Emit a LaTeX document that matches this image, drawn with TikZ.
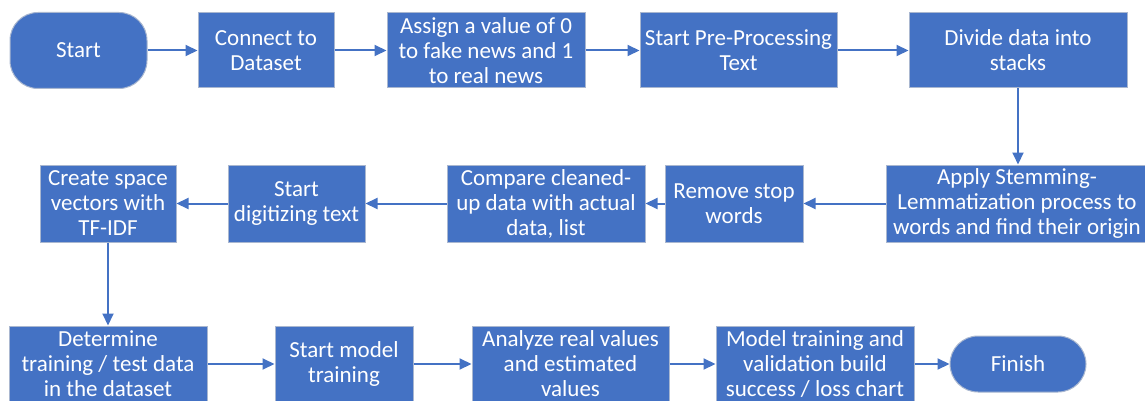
\documentclass[tikz,border=0pt]{standalone}
\usepackage{fontspec}
\setmainfont{Carlito}
\usetikzlibrary{arrows.meta}
\definecolor{boxblue}{HTML}{4472C4}
\definecolor{boxedge}{HTML}{A9B7D0}
\tikzset{
  stepbox/.style={rectangle, fill=boxblue, draw=boxedge, line width=1pt,
    text=white, align=center, inner sep=0pt,
    font=\fontsize{23}{25}\selectfont},
  termbox/.style={stepbox, rounded corners=28pt},
  flow/.style={draw=boxblue, line width=2pt, -{Triangle[length=12pt,width=11pt]}}
}
\begin{document}
\begin{tikzpicture}[x=1pt,y=-1pt]
\useasboundingbox (0,0) rectangle (1145,401);
% row 1
\node[termbox, minimum width=137pt, minimum height=76pt] (start) at (78.5,50.5) {Start};
\node[stepbox, minimum width=136pt, minimum height=75pt] (connect) at (266,50.5) {Connect to\\Dataset};
\node[stepbox, minimum width=198pt, minimum height=75pt] (assign) at (486,50.5) {Assign a value of 0\\to fake news and 1\\to real news};
\node[stepbox, minimum width=197pt, minimum height=75pt] (prep) at (738.5,50.5) {Start Pre-Processing\\Text};
\node[stepbox, minimum width=218pt, minimum height=75pt] (divide) at (1018,50.5) {Divide data into\\stacks};
% row 2
\node[stepbox, minimum width=262pt, minimum height=77pt] (apply) at (1017,203.5) {Apply Stemming-\\Lemmatization process to\\words and find their origin};
\node[stepbox, minimum width=138pt, minimum height=77pt] (remove) at (734,203.5) {Remove stop\\words};
\node[stepbox, minimum width=198pt, minimum height=77pt] (compare) at (546,203.5) {Compare cleaned-\\up data with actual\\data, list};
\node[stepbox, minimum width=137pt, minimum height=77pt] (digit) at (296.5,203.5) {Start\\digitizing text};
\node[stepbox, minimum width=136pt, minimum height=77pt] (create) at (108,203.5) {Create space\\vectors with\\TF-IDF};
% row 3
\node[stepbox, minimum width=198pt, minimum height=76pt] (determine) at (108,364) {Determine\\training / test data\\in the dataset};
\node[stepbox, minimum width=138pt, minimum height=76pt] (train) at (344,364) {Start model\\training};
\node[stepbox, minimum width=197pt, minimum height=76pt] (analyze) at (570.5,364) {Analyze real values\\and estimated\\values};
\node[stepbox, minimum width=198pt, minimum height=76pt] (model) at (815,364) {Model training and\\validation build\\success / loss chart};
\node[termbox, minimum width=136pt, minimum height=56pt] (finish) at (1018,364) {Finish};
% connectors
\draw[flow] (start) -- (connect);
\draw[flow] (connect) -- (assign);
\draw[flow] (assign) -- (prep);
\draw[flow] (prep) -- (divide);
\draw[flow] (divide.south) -- (divide.south |- apply.north);
\draw[flow] (apply) -- (remove);
\draw[flow] (remove) -- (compare);
\draw[flow] (compare) -- (digit);
\draw[flow] (digit) -- (create);
\draw[flow] (create) -- (determine);
\draw[flow] (determine) -- (train);
\draw[flow] (train) -- (analyze);
\draw[flow] (analyze) -- (model);
\draw[flow] (model) -- (finish);
\end{tikzpicture}
\end{document}
